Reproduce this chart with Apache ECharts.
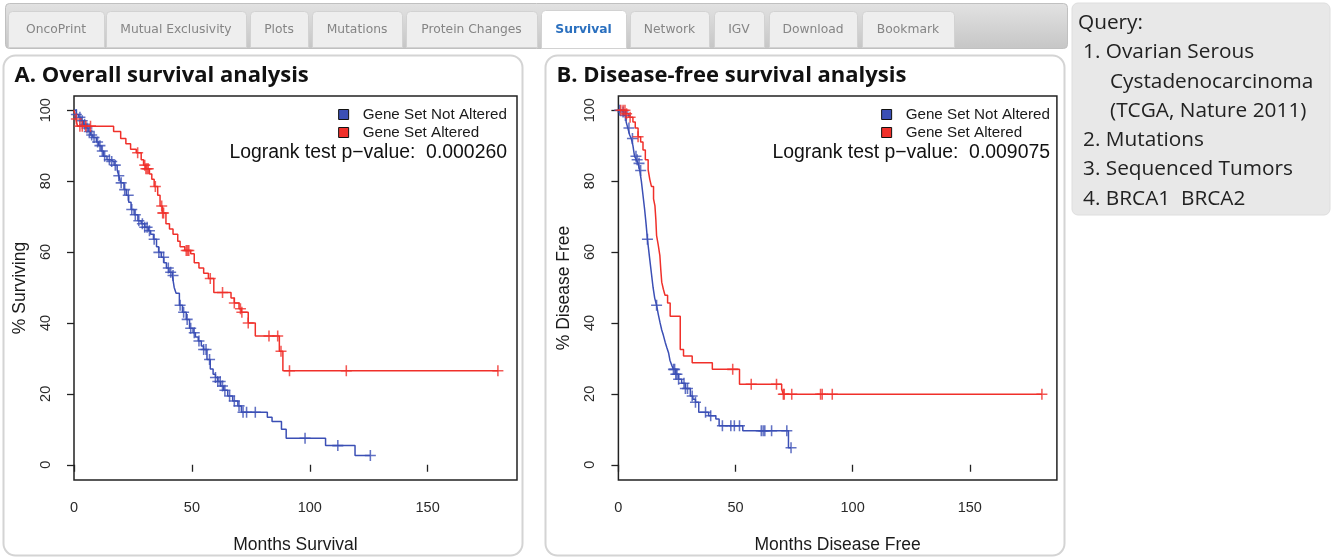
<!DOCTYPE html>
<html>
<head>
<meta charset="utf-8">
<title>Survival</title>
<script src="https://cdn.jsdelivr.net/npm/echarts@6/dist/echarts.min.js"></script>
<style>
html,body{margin:0;padding:0;background:#fff;}
#main{width:1337px;height:559px;}
</style>
</head>
<body>
<div id="main"></div>
<script>
// page chrome text
var tabNames = ['OncoPrint', 'Mutual Exclusivity', 'Plots', 'Mutations', 'Protein Changes',
    'Survival', 'Network', 'IGV', 'Download', 'Bookmark'];
var activeTab = 'Survival';
var queryLines = ['Query:', '1. Ovarian Serous', 'Cystadenocarcinoma', '(TCGA, Nature 2011)',
    '2. Mutations', '3. Sequenced Tumors', '4. BRCA1  BRCA2'];

var seriesNames = ['Gene Set Not Altered', 'Gene Set Altered'];
var xTicks = [0, 50, 100, 150];
var yTicks = [0, 20, 40, 60, 80, 100];

// A. overall survival, KM steps [months, % surviving]
var osNotAltered = [[0,100],[1,98.8],[2,98],[3,97],[4,96],[5,95],[6,94],[7,93],[8,92.3],[9.5,91],
    [10.5,90],[11.5,88.5],[12.5,87],[14,86],[15.5,85.5],[17,84.5],[18.3,83.2],[19,81.5],[19.8,79.5],
    [21.2,77.6],[22.2,76],[23.2,74],[24.2,72],[25.5,70.5],[27.1,68.8],[28.5,68],[30,67],[31.5,66],
    [32.5,65],[33.7,63.6],[35,61.5],[35.9,59.9],[37,58.5],[38.1,57],[39.2,55.5],[40.3,54.3],
    [41.7,53.4],[42.5,50],[43.3,48.4],[44.7,45],[46,43],[47.6,41],[49,38.5],[50.5,37.2],[51.5,36],
    [52.7,34.9],[54,33.5],[54.9,32.5],[56.4,29.7],[57.8,27],[59,25.5],[60,24.6],[61,23.5],
    [62.2,22.2],[63.5,21],[65.2,19.4],[67.3,18],[69.5,16.6],[71,14.8],[82,13.4],[84,12.2],
    [88,10],[90,7.5],[106.7,5.4],[119.2,2.6],[125.7,2.6]];
var osNotAlteredCensor = [1,2.5,3.5,4.5,5.5,6.5,7.5,8.5,10,11,12,13,15,16,17.5,19,20,21.5,23,
    24.5,26,27.5,29,30,31,32,34,36,38,40,41,42,45,46.5,48,49.5,51,53,55,56,57.5,60,61,62,63,64,
    66,68,70,71.7,73.2,76.9,98,111.9,125.7];
var osAltered = [[0,100],[0.8,97.5],[1.5,95.5],[16.8,94],[19.8,92],[22,90.5],[24,89],[26.4,88],
    [28.5,86],[29.5,84.5],[30.5,83.5],[32,82],[33,80.5],[34,78.5],[35.5,76],[36.5,73],[37.5,71],
    [39,68],[40.5,66.5],[42,65],[44,63],[45,61.5],[47,60.4],[49.5,59.5],[51,57],[53,55.5],[55,54],
    [57,52.5],[59.3,48.6],[66.6,47],[68,45.6],[70,44],[71,43],[73.9,40],[76.9,36.3],[87.1,32],
    [88.6,26.5],[180,26.5]];
var osAlteredCensor = [1,2.5,3.5,5,7,27,30,30.5,31,31.5,34.5,37.2,37.6,38,47.6,48.2,48.7,57.8,
    63,68,70.6,71.2,73.9,82.7,86.4,87.8,91.4,115.5,179.8];
var osPValue = '0.000260';

// B. disease-free survival, KM steps [months, % disease free]
var dfsNotAltered = [[0,100],[1.2,99.5],[2.2,98.5],[3.3,96.7],[4,95],[4.8,93],[5.5,92],[6.2,90],
    [6.9,87],[7.7,86],[8.4,85],[9.1,83],[9.8,80],[10.5,76],[11.2,72],[11.8,68],[12.4,63.6],
    [13.2,59],[14,54.5],[14.8,50],[15.5,47],[16.3,45],[17,42.5],[17.8,40],[18.5,38],[19.2,36.5],
    [20,34.5],[20.7,33],[21.4,31.6],[22,29.5],[22.8,28],[23.5,26.9],[24.5,25.5],[25.7,24.1],
    [27,23],[28.6,21.5],[30.7,19.4],[31.8,18.5],[32.9,17.6],[34.3,14.8],[38.5,13.8],[41.6,12.9],
    [43,11],[53.1,9.6],[72.6,4.8],[73.7,4.8]];
var dfsNotAlteredCensor = [0.5,2,3,4.5,6,7.5,8,8.8,9.5,12.4,16.3,23.5,24,24.5,25,25.7,28,28.6,
    29.5,31.5,32.9,37.2,39.4,44.4,48,49.5,51.7,61,61.8,62.5,65.4,71.9,73.7];
var dfsAltered = [[0,100],[3,99],[4.5,98],[6.2,96.7],[7.2,95],[8.4,92.5],[9.5,91],[10.5,88.8],
    [11.5,86],[12.7,83.2],[13.4,80.5],[14.1,78.5],[15,75],[15.6,73],[16,69],[16.3,64.6],[17,62],
    [17.7,59],[18.1,55],[18.5,51.5],[19.2,49.5],[19.9,47.8],[21,45.6],[22.1,41.9],[26.4,32.5],
    [27.8,30.7],[31.5,28.8],[40.1,26.9],[51.7,22.7],[69.7,21.3],[70.4,19.9],[180.8,19.9]];
var dfsAlteredCensor = [1,2,2.8,3.5,5,8.4,48.8,56.7,67.5,70.4,70.8,74,86.3,87,91.3,180.8];
var dfsPValue = '0.009075';

var colors = ['#3b4fb5', '#f0302a'];
var font = 'Liberation Sans, Arial, sans-serif';
var plusSymbol = 'path://M0,8.6h20v2.8h-20zM8.6,0h2.8v20h-2.8z';

// value of the KM step curve at time t (height of a censor mark)
function survAt(steps, t) {
    var v = steps[0][1];
    for (var i = 0; i < steps.length; i++) {
        if (steps[i][0] <= t) v = steps[i][1];
    }
    return v;
}

function censorData(steps, times) {
    return times.map(function(t) { return [t, survAt(steps, t)]; });
}

function kmSeries(idx, curves, censors) {
    var list = [];
    for (var i = 0; i < 2; i++) {
        list.push({
            name: seriesNames[i], type: 'line', step: 'end',
            xAxisIndex: idx, yAxisIndex: idx,
            showSymbol: false, symbol: 'none',
            lineStyle: { width: 1.5, color: colors[i] },
            itemStyle: { color: colors[i] },
            data: curves[i], z: 3
        });
        list.push({
            name: seriesNames[i] + ' censored', type: 'scatter',
            xAxisIndex: idx, yAxisIndex: idx,
            symbol: plusSymbol, symbolSize: 11,
            itemStyle: { color: colors[i] },
            data: censorData(curves[i], censors[i]), z: 4
        });
    }
    return list;
}

function xAxisOf(idx, max, name) {
    return {
        gridIndex: idx, type: 'value', min: 0, max: max,
        axisLine: { show: false }, splitLine: { show: false },
        axisTick: { customValues: xTicks, length: 7, lineStyle: { color: '#222', width: 1.3 } },
        axisLabel: { customValues: xTicks, margin: 20, fontSize: 14.5, color: '#2a2a2a', fontFamily: font },
        name: name, nameLocation: 'middle', nameGap: 56,
        nameTextStyle: { fontSize: 17.5, color: '#1a1a1a', fontFamily: font }
    };
}

function yAxisOf(idx, name) {
    return {
        gridIndex: idx, type: 'value', min: -4.3, max: 104,
        axisLine: { show: false }, splitLine: { show: false },
        axisTick: { customValues: yTicks, length: 7, lineStyle: { color: '#222', width: 1.3 } },
        axisLabel: { customValues: yTicks, margin: 21, rotate: 90, fontSize: 14.5, color: '#2a2a2a', fontFamily: font },
        name: name, nameLocation: 'middle', nameGap: 45, nameRotate: 90,
        nameTextStyle: { fontSize: 17.5, color: '#1a1a1a', fontFamily: font }
    };
}

function legendOf(rightEdge) {
    return {
        right: 1337 - rightEdge, top: 106, orient: 'vertical', align: 'left',
        data: seriesNames, icon: 'rect', itemWidth: 10, itemHeight: 10, itemGap: 1,
        padding: 0, selectedMode: false,
        itemStyle: { borderColor: '#111', borderWidth: 1 },
        textStyle: { fontFamily: font, fontSize: 15.2, color: '#1a1a1a', lineHeight: 17, padding: [0, 0, 0, 9] }
    };
}

// page chrome: tab bar, panels, query box
var tabEdges = [[8,104],[106,246],[250,308],[312,402],[406,537],[541,626],[630,709],[714,764],[769,857],[862,954]];
var graphics = [];
graphics.push({
    type: 'rect', shape: { x: 5.5, y: 3.5, width: 1062, height: 45, r: 4 },
    style: { fill: new echarts.graphic.LinearGradient(0, 0, 0, 1, [
        { offset: 0, color: '#e2e2e2' }, { offset: 1, color: '#c6c6c6' }]), stroke: '#c0c0c0', lineWidth: 1 }
});
tabNames.forEach(function(t, i) {
    var on = t === activeTab;
    var e = tabEdges[i];
    graphics.push({
        type: 'rect', shape: { x: e[0] + 0.5, y: on ? 10.5 : 11.5, width: e[1] - e[0], height: on ? 38 : 36, r: [4, 4, 0, 0] },
        style: { fill: on ? '#ffffff' : '#eeeeee', stroke: '#d2d2d2', lineWidth: 1 }
    });
    graphics.push({
        type: 'text', x: (e[0] + e[1]) / 2, y: 30,
        style: { text: t, fill: on ? '#2b70bf' : '#858585', fontFamily: 'DejaVu Sans', fontSize: 12.3,
            fontWeight: on ? 'bold' : 'normal', textAlign: 'center', textVerticalAlign: 'middle' }
    });
});
[[3.5, 'A. Overall survival analysis'], [545.5, 'B. Disease-free survival analysis']].forEach(function(p) {
    graphics.push({
        type: 'rect', shape: { x: p[0], y: 55.5, width: 519, height: 500, r: 12 },
        style: { fill: '#fff', stroke: '#d4d4d4', lineWidth: 2 }, z: -1
    });
    graphics.push({
        type: 'text', x: p[0] + 11, y: 76,
        style: { text: p[1], fill: '#111', fontFamily: 'Open Sans', fontWeight: 'bold', fontSize: 22,
            textAlign: 'left', textVerticalAlign: 'middle' }
    });
});
graphics.push({
    type: 'rect', shape: { x: 1072, y: 3, width: 258, height: 212, r: 6 },
    style: { fill: '#e8e8e8', stroke: '#dedede' }
});
queryLines.forEach(function(q, i) {
    var indent = i === 0 ? 1078 : (/^\d\./.test(q) ? 1083 : 1110);
    graphics.push({
        type: 'text', x: indent, y: 23 + i * 29.3,
        style: { text: q, fill: '#222', fontFamily: 'Open Sans', fontSize: 20.8,
            textAlign: 'left', textVerticalAlign: 'middle' }
    });
});
[[507, osPValue], [1050, dfsPValue]].forEach(function(p) {
    graphics.push({
        type: 'text', x: p[0], y: 153, z: 10,
        style: { text: 'Logrank test p\u2212value:  ' + p[1], fill: '#111', fontFamily: font, fontSize: 19.4,
            textAlign: 'right', textVerticalAlign: 'middle' }
    });
});

var chart = echarts.init(document.getElementById('main'));
chart.setOption({
    backgroundColor: '#fff',
    animation: false,
    graphic: graphics,
    grid: [
        { left: 74, top: 96, width: 443, height: 385, show: true, borderColor: '#222', borderWidth: 1.5, backgroundColor: 'transparent' },
        { left: 618.4, top: 96, width: 438.5, height: 385, show: true, borderColor: '#222', borderWidth: 1.5, backgroundColor: 'transparent' }
    ],
    legend: [legendOf(507), legendOf(1050)],
    xAxis: [xAxisOf(0, 187.9, 'Months Survival'), xAxisOf(1, 187.2, 'Months Disease Free')],
    yAxis: [yAxisOf(0, '% Surviving'), yAxisOf(1, '% Disease Free')],
    series: kmSeries(0, [osNotAltered, osAltered], [osNotAlteredCensor, osAlteredCensor])
        .concat(kmSeries(1, [dfsNotAltered, dfsAltered], [dfsNotAlteredCensor, dfsAlteredCensor]))
});
</script>
</body>
</html>
